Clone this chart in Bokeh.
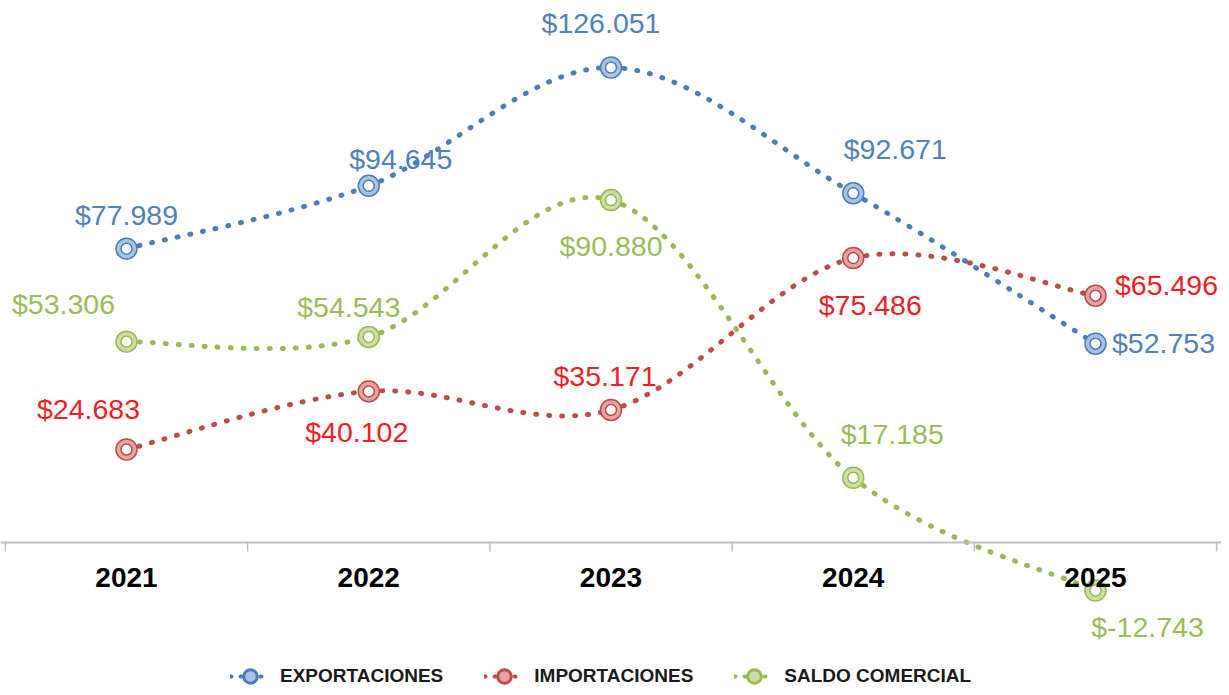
import numpy as np
from bokeh.plotting import figure
from bokeh.models import Legend, LegendItem, ColumnDataSource, Span
from bokeh.core.properties import value
from bokeh.embed import file_html
from bokeh.resources import INLINE

# ---------------- data ----------------
years = ["2021", "2022", "2023", "2024", "2025"]
exportaciones = [77.989, 94.645, 126.051, 92.671, 52.753]
importaciones = [24.683, 40.102, 35.171, 75.486, 65.496]
saldo_comercial = [53.306, 54.543, 90.880, 17.185, -12.743]
series_names = ["EXPORTACIONES", "IMPORTACIONES", "SALDO COMERCIAL"]

# ---------------- styling / layout ----------------
FONT_NAME = "Liberation Sans"
FONT = value(FONT_NAME)
line_colors = ["#4A7EBB", "#BE4B48", "#98B954"]
light_colors = ["#A9C1E2", "#E3A4A2", "#CCDDA6"]
label_colors = ["#4F81BD", "#F01E23", "#9BBB59"]
# label offsets (screen px) relative to each point
offsets = [
    [(0, -34), (32, -27), (-10, -45), (42, -44), (68, -1)],
    [(-38, -40), (-12, 41), (-6, -34), (17, 47), (71, -11)],
    [(-63, -38), (-20, -30), (0, 46), (39, -44), (52, 36)],
]

W, H = 1221, 687
Y0, Y1 = -38.48, 143.84
p = figure(width=W, height=H, x_range=(-0.5201, 4.5201), y_range=(Y0, Y1),
           x_axis_location=None, y_axis_location=None, toolbar_location=None,
           output_backend="svg", min_border=0, outline_line_color=None,
           background_fill_color="white", border_fill_color="white")
p.grid.visible = False

px_per_unit = H / (Y1 - Y0)

# axis line and boundary ticks
xs = np.arange(len(years))
p.add_layout(Span(location=0, dimension="width", line_color="#BFBFBF", line_width=2))
bounds = np.arange(len(years) + 1) - 0.5
p.segment(x0=bounds, y0=np.zeros(len(bounds)), x1=bounds,
          y1=np.full(len(bounds), -9 / px_per_unit), line_color="#BFBFBF", line_width=1.5)


def bezier_source(xv, yv, k=1.0 / 6.0):
    n = len(xv)
    pts = list(zip(xv, yv))
    d = dict(x0=[], y0=[], x1=[], y1=[], cx0=[], cy0=[], cx1=[], cy1=[])
    for i in range(n - 1):
        pm = pts[i - 1] if i > 0 else pts[i]
        a = pts[i]
        b = pts[i + 1]
        pp = pts[i + 2] if i + 2 < n else pts[i + 1]
        d["x0"].append(a[0]); d["y0"].append(a[1])
        d["x1"].append(b[0]); d["y1"].append(b[1])
        d["cx0"].append(a[0] + (b[0] - pm[0]) * k)
        d["cy0"].append(a[1] + (b[1] - pm[1]) * k)
        d["cx1"].append(b[0] - (pp[0] - a[0]) * k)
        d["cy1"].append(b[1] - (pp[1] - a[1]) * k)
    return ColumnDataSource(d)


all_series = [exportaciones, importaciones, saldo_comercial]
for si, vals in enumerate(all_series):
    src = bezier_source(list(xs.astype(float)), vals)
    p.bezier(x0="x0", y0="y0", x1="x1", y1="y1", cx0="cx0", cy0="cy0",
             cx1="cx1", cy1="cy1", source=src, line_color=line_colors[si],
             line_width=5, line_dash="1 12", line_cap="round")

for si, vals in enumerate(all_series):
    p.scatter(x=xs, y=vals, marker="circle", size=21, fill_color=light_colors[si],
              line_color=line_colors[si], line_width=1.5)
    p.scatter(x=xs, y=vals, marker="circle", size=11, fill_color="white",
              line_color=line_colors[si], line_width=1.5)

for si, vals in enumerate(all_series):
    labels = [f"${v:.3f}" for v in vals]
    for i in range(len(vals)):
        dx, dy = offsets[si][i]
        p.text(x=[xs[i]], y=[vals[i]], text=[labels[i]], x_offset=dx, y_offset=dy,
               text_font=FONT, text_font_size="28.5px", text_color=label_colors[si],
               text_align="center", text_baseline="middle")

# legend renderers (one non-drawn NaN point each)
legend_items = []
for si in range(3):
    lr = p.line(x=[0], y=[np.nan], line_color=line_colors[si], line_width=4,
                line_dash="1 9", line_cap="round")
    sr = p.scatter(x=[0], y=[np.nan], marker="circle", fill_color=light_colors[si],
                   line_color=line_colors[si], line_width=3)
    legend_items.append(LegendItem(label=series_names[si], renderers=[lr, sr]))

legend = Legend(items=legend_items, orientation="horizontal", location=(230, -6),
                glyph_width=40, glyph_height=34, label_height=34, label_standoff=10,
                spacing=41, padding=0, margin=0, border_line_color=None,
                background_fill_alpha=0, label_text_font=FONT_NAME,
                label_text_font_size="19px", label_text_font_style="bold",
                label_text_color="#1A1A1A", label_text_baseline="middle")
p.add_layout(legend)

# category labels
p.text(x=xs, y=np.zeros(len(xs)), text=years, y_offset=35, text_font=FONT,
       text_font_size="28px", text_font_style="bold", text_color="#000000",
       text_align="center", text_baseline="middle")

open("out.html", "w").write(file_html(p, INLINE))
